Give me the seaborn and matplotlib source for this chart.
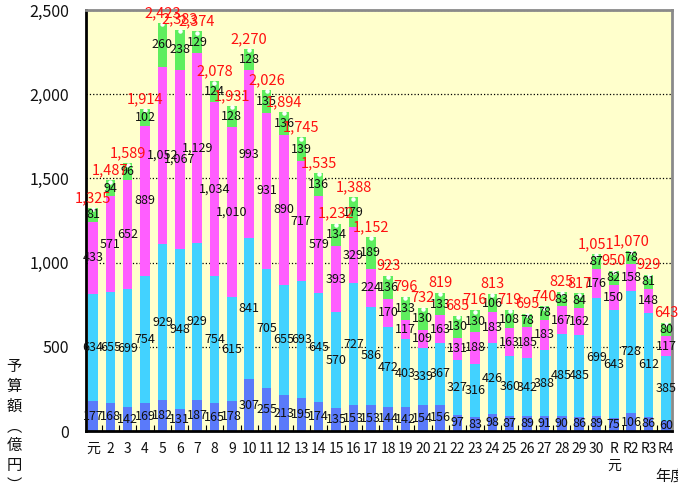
import matplotlib
matplotlib.use("Agg")
import matplotlib.pyplot as plt
import seaborn as sns
import numpy as np
import pandas as pd

years = ["元", "2", "3", "4", "5", "6", "7", "8", "9", "10",
         "11", "12", "13", "14", "15", "16", "17", "18", "19", "20",
         "21", "22", "23", "24", "25", "26", "27", "28", "29", "30",
         "R\n元", "R2", "R3", "R4"]
blue = [177, 168, 142, 169, 182, 131, 187, 165, 178, 307,
        255, 213, 195, 174, 135, 153, 153, 144, 142, 154,
        156, 97, 83, 98, 87, 89, 91, 90, 86, 89,
        75, 106, 86, 60]
cyan = [634, 655, 699, 754, 929, 948, 929, 754, 615, 841,
        705, 655, 693, 645, 570, 727, 586, 472, 403, 339,
        367, 327, 316, 426, 360, 342, 388, 485, 485, 699,
        643, 728, 612, 385]
magenta = [433, 571, 652, 889, 1052, 1067, 1129, 1034, 1010, 993,
           931, 890, 717, 579, 393, 329, 224, 170, 117, 109,
           163, 131, 188, 183, 163, 185, 183, 167, 162, 176,
           150, 158, 148, 117]
green = [81, 94, 96, 102, 260, 238, 129, 124, 128, 128,
         135, 136, 139, 136, 134, 179, 189, 136, 133, 130,
         133, 130, 130, 106, 108, 78, 78, 83, 84, 87,
         82, 78, 81, 80]
totals = [1325, 1487, 1589, 1914, 2423, 2383, 2374, 2078, 1931, 2270,
          2026, 1894, 1745, 1535, 1232, 1388, 1152, 923, 796, 732,
          819, 685, 716, 813, 719, 695, 740, 825, 817, 1051,
          950, 1070, 929, 643]

sns.set_theme(style="white")
plt.rcParams['font.family'] = ['Noto Sans CJK JP', 'DejaVu Sans']

df = pd.DataFrame({"year": years, "b": blue, "c": cyan, "m": magenta, "g": green})
df["l1"] = df["b"]
df["l2"] = df["l1"] + df["c"]
df["l3"] = df["l2"] + df["m"]
df["l4"] = df["l3"] + df["g"]

fig = plt.figure(figsize=(6.78, 4.84), dpi=100)
ax = fig.add_axes([86 / 678, 1 - 431 / 484, (672 - 86) / 678, (431 - 10) / 484])
ax.set_facecolor("#FFFFCC")

layers = [("l4", "#5EEE5E"), ("l3", "#FF5EFF"), ("l2", "#42D2FF"), ("l1", "#5A7AFA")]
for col, c in layers:
    sns.barplot(data=df, x="year", y=col, order=years, color=c, saturation=1,
                width=0.55, errorbar=None, edgecolor="none", linewidth=0,
                ax=ax, zorder=2)

# little white notch at the top of each bar
ax.plot(np.arange(len(years)), df["l4"] - 8, ls="none", marker="o", ms=2.2,
        color="white", zorder=3)

# segment labels
for i in range(len(years)):
    bottoms = [0, df["l1"][i], df["l2"][i], df["l3"][i]]
    vals = [blue[i], cyan[i], magenta[i], green[i]]
    for b0, v in zip(bottoms, vals):
        ax.text(i, b0 + v / 2, f"{v:,}", ha="center", va="center",
                fontsize=9, color="#111111", zorder=5)
    ax.annotate(f"{totals[i]:,}", (i, df["l4"][i]), xytext=(0, 2),
                textcoords="offset points", ha="center", va="bottom",
                fontsize=10.5, color="#FF1010", zorder=6)

ax.set_ylim(0, 2500)
ax.set_xlim(-0.4, len(years) - 0.65)
ax.set_yticks(range(0, 2501, 500))
ax.set_yticklabels([f"{v:,}" for v in range(0, 2501, 500)])
ax.yaxis.grid(True, linestyle=":", color="black", linewidth=0.9)
ax.set_axisbelow(True)
ax.set_xlabel("")
ax.set_ylabel("")

ax.tick_params(axis="y", length=0, pad=12, labelsize=11.5, colors="#111111")
ax.tick_params(axis="x", length=0, pad=8, labelsize=10, colors="#111111")
ax.set_xticks(np.arange(0.5, len(years) - 1, 1), minor=True)
ax.tick_params(axis="x", which="minor", direction="in", length=4, width=0.8,
               color="black", bottom=True)

for s in ["left", "bottom"]:
    ax.spines[s].set_color("black")
    ax.spines[s].set_linewidth(2)
for s in ["top", "right"]:
    ax.spines[s].set_color("#8A8A8A")
    ax.spines[s].set_linewidth(2)

fig.text(14 / 678, 1 - 358 / 484, "予\n算\n額\n︵\n億\n円\n︶", ha="center", va="top",
         fontsize=11, linespacing=1.22, color="#111111")
fig.text(655 / 678, 1 - 476 / 484, "年度", ha="left", va="center",
         fontsize=11, color="#111111")

fig.savefig("out.png", dpi=100)
